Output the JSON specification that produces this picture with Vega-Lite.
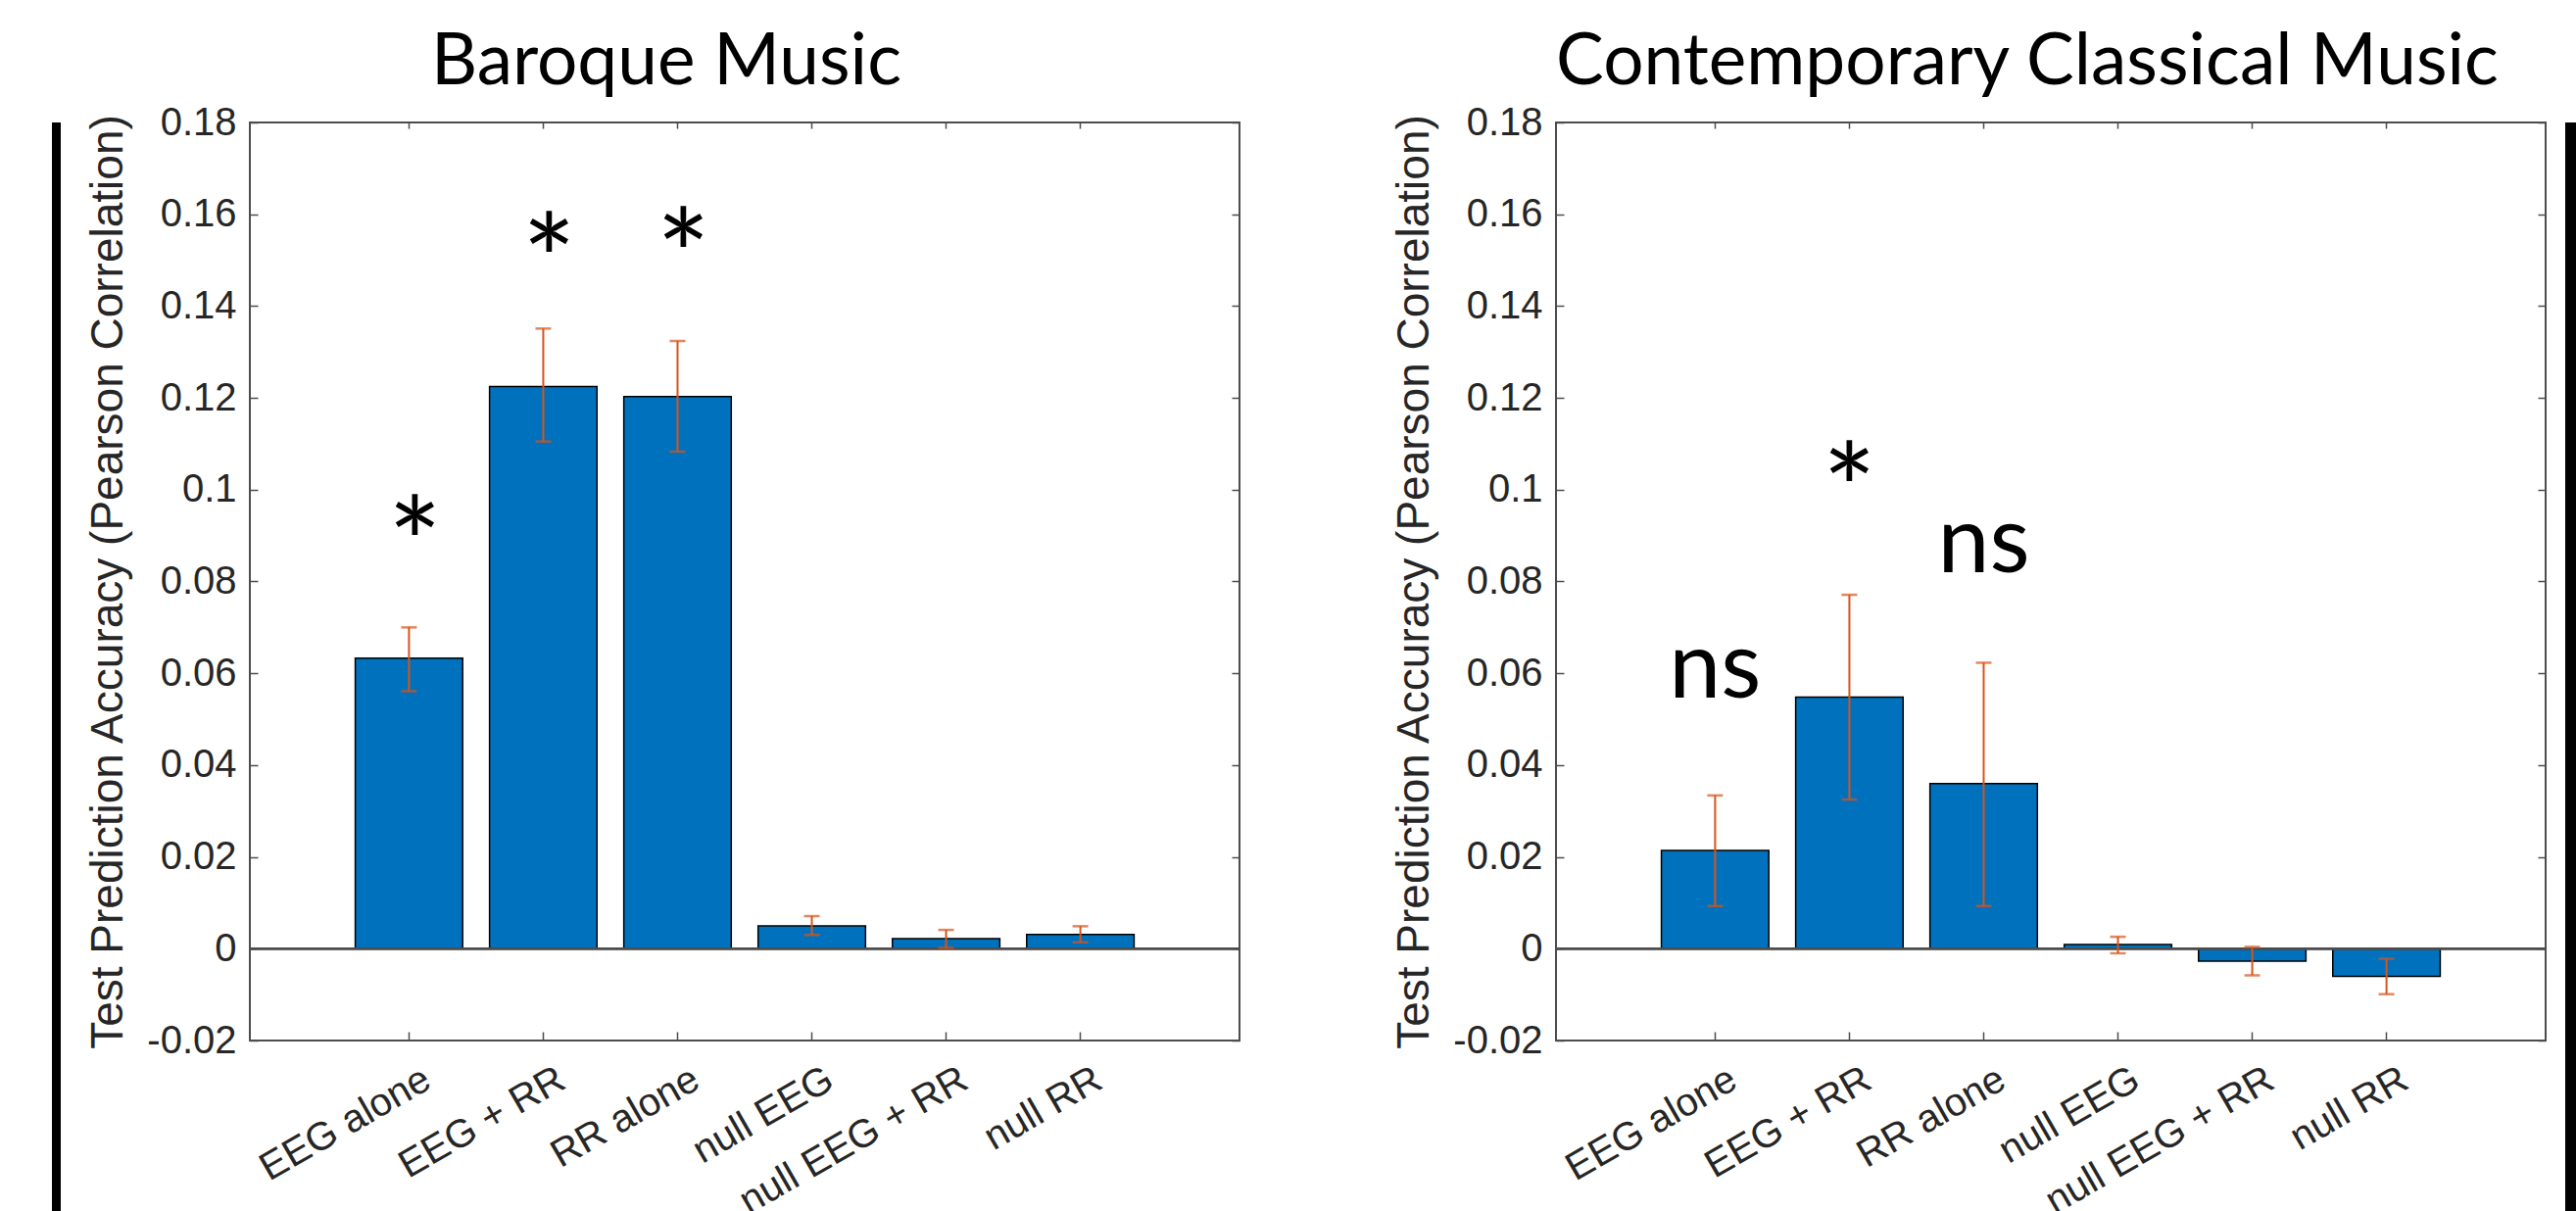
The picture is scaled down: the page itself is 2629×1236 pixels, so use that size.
{
  "$schema": "https://vega.github.io/schema/vega-lite/v6.json",
  "background": "white",
  "padding": {"left": 53, "top": 27, "right": 0, "bottom": 0},
  "datasets": {
    "baroque": [
      {"cat": "EEG alone", "value": 0.0633, "lo": 0.0561, "hi": 0.0700},
      {"cat": "EEG + RR", "value": 0.1225, "lo": 0.1105, "hi": 0.1351},
      {"cat": "RR alone", "value": 0.1203, "lo": 0.1083, "hi": 0.1324},
      {"cat": "null EEG", "value": 0.0050, "lo": 0.0030, "hi": 0.0071},
      {"cat": "null EEG + RR", "value": 0.0022, "lo": 0.0002, "hi": 0.0041},
      {"cat": "null RR", "value": 0.0031, "lo": 0.0014, "hi": 0.0049}
    ],
    "contemporary": [
      {"cat": "EEG alone", "value": 0.0214, "lo": 0.0093, "hi": 0.0334},
      {"cat": "EEG + RR", "value": 0.0548, "lo": 0.0325, "hi": 0.0771},
      {"cat": "RR alone", "value": 0.0360, "lo": 0.0093, "hi": 0.0623},
      {"cat": "null EEG", "value": 0.0009, "lo": -0.0010, "hi": 0.0026},
      {"cat": "null EEG + RR", "value": -0.0027, "lo": -0.0058, "hi": 0.0004},
      {"cat": "null RR", "value": -0.0060, "lo": -0.0099, "hi": -0.0022}
    ],
    "baroqueNotes": [
      {"cat": "EEG alone", "label": "*", "pos": 0.0953},
      {"cat": "EEG + RR", "label": "*", "pos": 0.157},
      {"cat": "RR alone", "label": "*", "pos": 0.158}
    ],
    "contemporaryNotes": [
      {"cat": "EEG alone", "label": "ns", "pos": 0.061},
      {"cat": "EEG + RR", "label": "*", "pos": 0.107},
      {"cat": "RR alone", "label": "ns", "pos": 0.0882}
    ]
  },
  "config": {
    "view": {"stroke": "#4d4d4d", "strokeWidth": 2},
    "axis": {"labelFont": "Liberation Sans", "titleFont": "Liberation Sans", "labelColor": "#262626", "titleColor": "#262626", "tickColor": "#4d4d4d", "tickWidth": 1.5, "grid": false, "domain": false, "labelLimit": 0},
    "title": {"font": "Lato", "fontSize": 73, "fontWeight": "normal", "color": "black", "baseline": "alphabetic", "frame": "group", "offset": 0}
  },
  "spacing": 24,
  "hconcat": [
    {
      "width": 9, "height": 1260,
      "view": {"fill": "black", "stroke": null},
      "data": {"values": []},
      "mark": "rule",
      "encoding": {}
    },
    {
      "spacing": 18,
      "hconcat": [
        {
          "spacing": 152,
          "hconcat": [
            {
              "width": 1010, "height": 937,
              "title": {"text": "Baroque Music", "dx": -80},
              "layer": [
                {
                  "data": {"name": "baroque"},
                  "layer": [
                    {
                      "mark": {"type": "bar", "fill": "#0072BD", "stroke": "black", "strokeWidth": 1.5},
                      "encoding": {
                        "x": {"field": "cat", "type": "nominal", "sort": null,
                          "scale": {"domain": ["EEG alone", "EEG + RR", "RR alone", "null EEG", "null EEG + RR", "null RR"], "paddingInner": 0.2, "paddingOuter": 0.785},
                          "axis": {"orient": "bottom", "title": null, "labelAngle": -30, "labelAlign": "right", "labelBaseline": "top", "labelFontSize": 40, "tickSize": -9, "labelPadding": 28, "labelOffset": 9}},
                        "y": {"field": "value", "type": "quantitative",
                          "scale": {"domain": [-0.02, 0.18], "nice": false, "zero": false},
                          "axis": {"orient": "left", "values": [-0.02, 0, 0.02, 0.04, 0.06, 0.08, 0.1, 0.12, 0.14, 0.16, 0.18], "labelExpr": "replace(format(datum.value, '.2~f'), '−', '-')", "labelFontSize": 40, "tickSize": -8, "labelPadding": 22, "title": "Test Prediction Accuracy (Pearson Correlation)", "titleFontSize": 46, "titleFontWeight": "normal", "titlePadding": 15}},
                        "y2": {"datum": 0}
                      }
                    },
                    {"mark": {"type": "rule", "color": "#4d4d4d", "strokeWidth": 2}, "encoding": {"y": {"datum": 0}}},
                    {"mark": {"type": "rule", "color": "#D95319", "strokeWidth": 2},
                      "encoding": {"x": {"field": "cat", "type": "nominal", "sort": null}, "y": {"field": "lo", "type": "quantitative"}, "y2": {"field": "hi"}}},
                    {"mark": {"type": "tick", "color": "#D95319", "thickness": 2.5, "size": 16},
                      "encoding": {"x": {"field": "cat", "type": "nominal", "sort": null}, "y": {"field": "lo", "type": "quantitative"}}},
                    {"mark": {"type": "tick", "color": "#D95319", "thickness": 2.5, "size": 16},
                      "encoding": {"x": {"field": "cat", "type": "nominal", "sort": null}, "y": {"field": "hi", "type": "quantitative"}}},
                    {"data": {"name": "baroqueNotes"},
                      "mark": {"type": "text", "font": "Lato", "fontSize": 130, "baseline": "middle", "align": "center", "color": "black", "dy": 41, "dx": 6},
                      "encoding": {"x": {"field": "cat", "type": "nominal", "sort": null}, "y": {"field": "pos", "type": "quantitative"}, "text": {"field": "label"}}}
                  ]
                },
                {
                  "data": {"name": "baroque"},
                  "mark": {"type": "tick", "opacity": 0},
                  "encoding": {
                    "x": {"field": "cat", "type": "nominal", "sort": null,
                      "scale": {"domain": ["EEG alone", "EEG + RR", "RR alone", "null EEG", "null EEG + RR", "null RR"], "paddingInner": 0.2, "paddingOuter": 0.785},
                      "axis": {"orient": "top", "labels": false, "title": null, "tickSize": -6, "minExtent": 0, "maxExtent": 0}},
                    "y": {"field": "value", "type": "quantitative",
                      "scale": {"domain": [-0.02, 0.18], "nice": false, "zero": false},
                      "axis": {"orient": "right", "labels": false, "title": null, "tickSize": -8, "minExtent": 0, "maxExtent": 0, "values": [-0.02, 0, 0.02, 0.04, 0.06, 0.08, 0.1, 0.12, 0.14, 0.16, 0.18]}}
                  }
                }
              ],
              "resolve": {"scale": {"x": "independent", "y": "independent"}, "axis": {"x": "independent", "y": "independent"}}
            },
            {
              "width": 1010, "height": 937,
              "title": {"text": "Contemporary Classical Music", "dx": -24},
              "layer": [
                {
                  "data": {"name": "contemporary"},
                  "layer": [
                    {
                      "mark": {"type": "bar", "fill": "#0072BD", "stroke": "black", "strokeWidth": 1.5},
                      "encoding": {
                        "x": {"field": "cat", "type": "nominal", "sort": null,
                          "scale": {"domain": ["EEG alone", "EEG + RR", "RR alone", "null EEG", "null EEG + RR", "null RR"], "paddingInner": 0.2, "paddingOuter": 0.785},
                          "axis": {"orient": "bottom", "title": null, "labelAngle": -30, "labelAlign": "right", "labelBaseline": "top", "labelFontSize": 40, "tickSize": -9, "labelPadding": 28, "labelOffset": 9}},
                        "y": {"field": "value", "type": "quantitative",
                          "scale": {"domain": [-0.02, 0.18], "nice": false, "zero": false},
                          "axis": {"orient": "left", "values": [-0.02, 0, 0.02, 0.04, 0.06, 0.08, 0.1, 0.12, 0.14, 0.16, 0.18], "labelExpr": "replace(format(datum.value, '.2~f'), '−', '-')", "labelFontSize": 40, "tickSize": -8, "labelPadding": 22, "title": "Test Prediction Accuracy (Pearson Correlation)", "titleFontSize": 46, "titleFontWeight": "normal", "titlePadding": 15}},
                        "y2": {"datum": 0}
                      }
                    },
                    {"mark": {"type": "rule", "color": "#4d4d4d", "strokeWidth": 2}, "encoding": {"y": {"datum": 0}}},
                    {"mark": {"type": "rule", "color": "#D95319", "strokeWidth": 2},
                      "encoding": {"x": {"field": "cat", "type": "nominal", "sort": null}, "y": {"field": "lo", "type": "quantitative"}, "y2": {"field": "hi"}}},
                    {"mark": {"type": "tick", "color": "#D95319", "thickness": 2.5, "size": 16},
                      "encoding": {"x": {"field": "cat", "type": "nominal", "sort": null}, "y": {"field": "lo", "type": "quantitative"}}},
                    {"mark": {"type": "tick", "color": "#D95319", "thickness": 2.5, "size": 16},
                      "encoding": {"x": {"field": "cat", "type": "nominal", "sort": null}, "y": {"field": "hi", "type": "quantitative"}}},
                    {"data": {"name": "contemporaryNotes"},
                      "transform": [{"filter": "datum.label === '*'"}],
                      "mark": {"type": "text", "font": "Lato", "fontSize": 130, "baseline": "middle", "align": "center", "color": "black", "dy": 41},
                      "encoding": {"x": {"field": "cat", "type": "nominal", "sort": null}, "y": {"field": "pos", "type": "quantitative"}, "text": {"field": "label"}}},
                    {"data": {"name": "contemporaryNotes"},
                      "transform": [{"filter": "datum.label === 'ns'"}],
                      "mark": {"type": "text", "font": "Lato", "fontSize": 95, "baseline": "middle", "align": "center", "color": "black", "dy": 0},
                      "encoding": {"x": {"field": "cat", "type": "nominal", "sort": null}, "y": {"field": "pos", "type": "quantitative"}, "text": {"field": "label"}}}
                  ]
                },
                {
                  "data": {"name": "contemporary"},
                  "mark": {"type": "tick", "opacity": 0},
                  "encoding": {
                    "x": {"field": "cat", "type": "nominal", "sort": null,
                      "scale": {"domain": ["EEG alone", "EEG + RR", "RR alone", "null EEG", "null EEG + RR", "null RR"], "paddingInner": 0.2, "paddingOuter": 0.785},
                      "axis": {"orient": "top", "labels": false, "title": null, "tickSize": -6, "minExtent": 0, "maxExtent": 0}},
                    "y": {"field": "value", "type": "quantitative",
                      "scale": {"domain": [-0.02, 0.18], "nice": false, "zero": false},
                      "axis": {"orient": "right", "labels": false, "title": null, "tickSize": -8, "minExtent": 0, "maxExtent": 0, "values": [-0.02, 0, 0.02, 0.04, 0.06, 0.08, 0.1, 0.12, 0.14, 0.16, 0.18]}}
                  }
                }
              ],
              "resolve": {"scale": {"x": "independent", "y": "independent"}, "axis": {"x": "independent", "y": "independent"}}
            }
          ]
        },
        {
          "width": 20, "height": 1260,
          "view": {"fill": "black", "stroke": null},
          "data": {"values": []},
          "mark": "rule",
          "encoding": {}
        }
      ]
    }
  ]
}
